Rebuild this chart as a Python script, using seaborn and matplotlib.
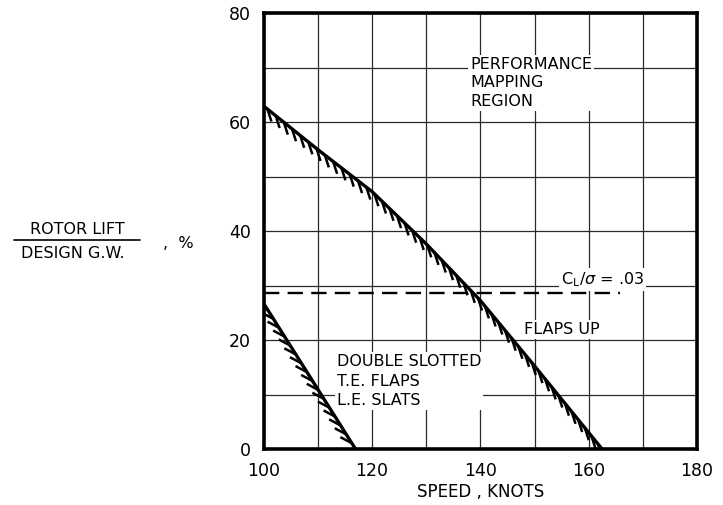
import numpy as np
import matplotlib
matplotlib.use("Agg")
import matplotlib.pyplot as plt
from matplotlib.lines import Line2D
import seaborn as sns

# ---- data ----
speed_flaps_up = [100, 110, 120, 130, 140, 150, 162.5]
lift_flaps_up = [63.0, 55.0, 47.3, 37.7, 27.3, 15.3, 0.0]
speed_slotted = [100, 117]
lift_slotted = [26.8, 0.0]
speed_cl = [100, 165.8]
lift_cl = [28.6, 28.6]
x_ticks = [100, 120, 140, 160, 180]
y_ticks = [0, 20, 40, 60, 80]
grid_x = [110, 130, 150, 170]
grid_y = [10, 30, 50, 70]

sns.set_theme(style="white")
plt.rcParams["font.family"] = ["DejaVu Sans"]
plt.rcParams["text.color"] = "black"
plt.rcParams["axes.labelcolor"] = "black"

fig = plt.figure(figsize=(7.23, 5.05), dpi=100)
ax = fig.add_axes([0.3645, 0.1103, 0.5997, 0.8634])
ax.set_xlim(100, 180)
ax.set_ylim(0, 80)

# grid
ax.set_xticks(x_ticks)
ax.set_yticks(y_ticks)
ax.set_xticks(grid_x, minor=True)
ax.set_yticks(grid_y, minor=True)
ax.grid(True, which="both", color="#2a2a2a", linewidth=0.9)
ax.set_axisbelow(True)
ax.tick_params(which="both", length=0, labelsize=12.5, colors="black")
ax.tick_params(axis="x", pad=9)
ax.tick_params(axis="y", pad=9)
for s in ax.spines.values():
    s.set_visible(True)
    s.set_color("black")
    s.set_linewidth(2.6)

# curves
sns.lineplot(x=speed_flaps_up, y=lift_flaps_up, ax=ax, color="black",
             linewidth=2.4, sort=False, estimator=None, zorder=4)
sns.lineplot(x=speed_slotted, y=lift_slotted, ax=ax, color="black",
             linewidth=2.4, sort=False, estimator=None, zorder=4)
sns.lineplot(x=speed_cl, y=lift_cl, ax=ax, color="black",
             linewidth=1.7, sort=False, estimator=None, zorder=4)
ax.lines[-1].set_dashes([6.5, 3.5])

# hatching along curves (computed in display space)
fig.canvas.draw()
def hatch(xs, ys, angle_deg, length=13.0, step=10.5, start=5.0):
    pts = ax.transData.transform(np.column_stack([xs, ys]))
    seg = np.diff(pts, axis=0)
    seglen = np.hypot(seg[:, 0], seg[:, 1])
    cum = np.concatenate([[0], np.cumsum(seglen)])
    d = np.arange(start, cum[-1], step)
    px = np.interp(d, cum, pts[:, 0])
    py = np.interp(d, cum, pts[:, 1])
    a = np.deg2rad(angle_deg)
    ex = px + length * np.cos(a)
    ey = py + length * np.sin(a)
    inv = ax.transData.inverted()
    p0 = inv.transform(np.column_stack([px, py]))
    p1 = inv.transform(np.column_stack([ex, ey]))
    hx, hy = [], []
    for (a0, b0), (a1, b1) in zip(p0, p1):
        hx += [a0, a1, np.nan]
        hy += [b0, b1, np.nan]
    ax.plot(hx, hy, color="black", linewidth=1.8, solid_capstyle="butt", zorder=3)

hatch(speed_flaps_up, lift_flaps_up, -72, length=13)
hatch(speed_slotted, lift_slotted, 152, length=13, start=8.0)

# annotations
box = dict(facecolor="white", edgecolor="none", pad=1.5)
ax.text(138.1, 72.0, "PERFORMANCE\nMAPPING\nREGION", fontsize=11.5, va="top",
        ha="left", linespacing=1.3, bbox=box, zorder=5)
ax.text(154.9, 31.1, r"C$_\mathregular{L}$/$\sigma$ = .03", fontsize=11.5,
        va="center", ha="left", bbox=box, zorder=5)
ax.text(148.1, 22.0, "FLAPS UP", fontsize=11.5, va="center", ha="left",
        bbox=box, zorder=5)
ax.text(113.5, 17.4, "DOUBLE SLOTTED\nT.E. FLAPS\nL.E. SLATS", fontsize=11.5,
        va="top", ha="left", linespacing=1.35, bbox=box, zorder=5)

ax.set_xlabel("SPEED , KNOTS", fontsize=12, labelpad=2)
ax.set_ylabel("")

# y label as a fraction
W, H = 723, 505
fig.text(77 / W, 1 - 229 / H, "ROTOR LIFT", fontsize=11.5, ha="center", va="center")
fig.text(73 / W, 1 - 253 / H, "DESIGN G.W.", fontsize=11.5, ha="center", va="center")
fig.add_artist(Line2D([14 / W, 140 / W], [1 - 240 / H, 1 - 240 / H],
                      transform=fig.transFigure, color="black", linewidth=1.2))
fig.text(178 / W, 1 - 243 / H, ",  %", fontsize=11.5, ha="center", va="center")

fig.savefig("out.png", dpi=100)
